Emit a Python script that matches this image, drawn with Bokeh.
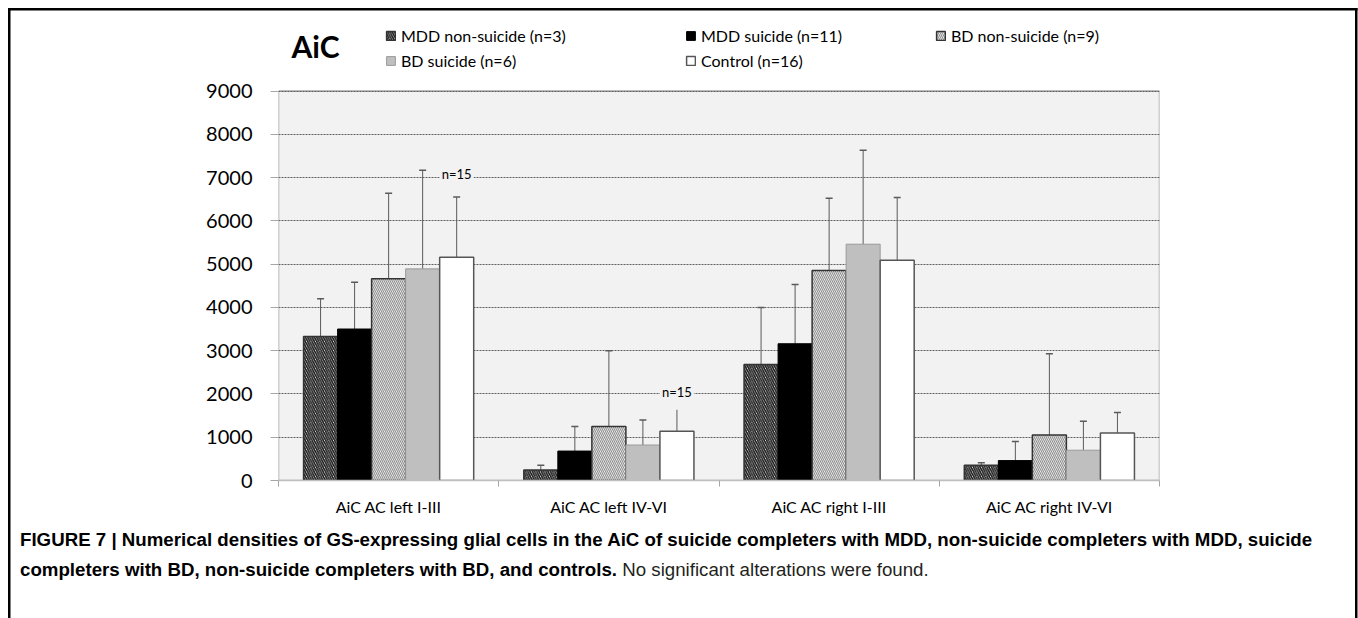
from bokeh.plotting import figure
from bokeh.models import (Range1d, FixedTicker, Whisker, TeeHead, ColumnDataSource,
                          Label, Legend, LegendItem, Div, BoxAnnotation)
from bokeh.layouts import column
from bokeh.embed import file_html
from bokeh.resources import INLINE

categories = ["AiC AC left I-III", "AiC AC left IV-VI", "AiC AC right I-III", "AiC AC right IV-VI"]
series = ["MDD non-suicide (n=3)", "MDD suicide (n=11)", "BD non-suicide (n=9)",
          "BD suicide (n=6)", "Control (n=16)"]

mdd_non_suicide = [3330, 240, 2680, 350]
mdd_non_suicide_sd = [870, 110, 1320, 60]
mdd_suicide = [3500, 680, 3160, 460]
mdd_suicide_sd = [1080, 570, 1370, 440]
bd_non_suicide = [4660, 1250, 4850, 1050]
bd_non_suicide_sd = [1980, 1750, 1670, 1880]
bd_suicide = [4890, 820, 5460, 700]
bd_suicide_sd = [2280, 580, 2170, 670]
control = [5160, 1140, 5090, 1100]
control_sd = [1390, 570, 1450, 470]

means = [mdd_non_suicide, mdd_suicide, bd_non_suicide, bd_suicide, control]
sds = [mdd_non_suicide_sd, mdd_suicide_sd, bd_non_suicide_sd, bd_suicide_sd, control_sd]

y_ticks = list(range(0, 9001, 1000))
y_max = 9000

note_text = "n=15"
note_groups = [0, 1]
note_y = [7080, 2050]

cap_bold_1 = ("FIGURE 7 | Numerical densities of GS-expressing glial cells in the AiC of suicide "
              "completers with MDD, non-suicide completers with MDD, suicide")
cap_bold_2 = "completers with BD, non-suicide completers with BD, and controls."
cap_plain = "No significant alterations were found."

styles = [
    dict(fill_color="white", hatch_pattern="\\", hatch_color="#1a1a1a", hatch_scale=4.5,
         hatch_weight=1.6, line_color="#333333", line_width=1.5),
    dict(fill_color="black", line_color="black", line_width=1.0),
    dict(fill_color="white", hatch_pattern="\\", hatch_color="#8f8f8f", hatch_scale=4.0,
         hatch_weight=1.2, line_color="#333333", line_width=1.5),
    dict(fill_color="#bfbfbf", line_color="#9a9a9a", line_width=1.0),
    dict(fill_color="white", line_color="#555555", line_width=1.5),
]

W, H1, H2 = 1358, 520, 98
FRAME_TOP, ZERO_Y, MAX_Y = 12, 480, 90.5
y_end = y_max * (ZERO_Y - FRAME_TOP) / (ZERO_Y - MAX_Y)

p = figure(width=W, height=H1, output_backend="svg", toolbar_location=None,
           x_range=Range1d(0, len(categories)), y_range=Range1d(0, y_end),
           min_border_left=278, min_border_right=199, min_border_top=FRAME_TOP,
           min_border_bottom=H1 - ZERO_Y)
p.background_fill_alpha = 0
p.border_fill_alpha = 0
p.outline_line_color = None

# gray plotting area (0..9000) with its outline
p.add_layout(BoxAnnotation(left=0, right=len(categories), bottom=0, top=y_max,
                           fill_color="#f2f2f2", fill_alpha=1, line_color="#a6a6a6",
                           line_width=1.5, line_alpha=1, level="image"))

bw = 0.1545
offsets = [-2 * bw, -bw, 0, bw, 2 * bw]
renderers = []
for k in range(5):
    xs = [i + 0.5 + offsets[k] for i in range(len(categories))]
    src = ColumnDataSource(dict(x=xs, top=means[k],
                                upper=[m + s for m, s in zip(means[k], sds[k])]))
    w = Whisker(source=src, base="x", lower="top", upper="upper", dimension="height",
                line_color="#5a5a5a", line_width=1,
                upper_head=TeeHead(size=7, line_color="#5a5a5a", line_width=1.5),
                lower_head=None, level="underlay")
    p.add_layout(w)
    r = p.vbar(x="x", top="top", bottom=0, width=bw, source=src, **styles[k])
    renderers.append(r)

# axes / grid
p.xgrid.grid_line_color = None
p.ygrid.ticker = FixedTicker(ticks=y_ticks)
p.ygrid.grid_line_color = "#5f5f5f"
p.ygrid.grid_line_dash = "2 1"
p.ygrid.grid_line_width = 1

p.yaxis.ticker = FixedTicker(ticks=y_ticks)
p.yaxis.axis_line_color = None
p.yaxis.major_tick_line_color = "#a6a6a6"
p.yaxis.major_tick_out = 8
p.yaxis.major_tick_in = 0
p.yaxis.minor_tick_line_color = None
p.yaxis.major_label_text_font = "Lato"
p.yaxis.major_label_text_font_size = "20px"
p.yaxis.major_label_text_color = "black"
p.yaxis.major_label_standoff = 18

centers = [i + 0.5 for i in range(len(categories))]
p.xaxis.ticker = FixedTicker(ticks=centers, minor_ticks=list(range(len(categories) + 1)))
p.xaxis.major_label_overrides = {c: lab for c, lab in zip(centers, categories)}
p.xaxis.axis_line_color = "#bfbfbf"
p.xaxis.axis_line_width = 1.5
p.xaxis.major_tick_line_color = None
p.xaxis.minor_tick_line_color = "#a6a6a6"
p.xaxis.minor_tick_out = 6
p.xaxis.minor_tick_in = 0
p.xaxis.major_label_text_font = "Lato"
p.xaxis.major_label_text_font_size = "16px"
p.xaxis.major_label_text_color = "black"
p.xaxis.major_label_standoff = 10

# n=15 notes
for g, yv in zip(note_groups, note_y):
    p.add_layout(Label(x=g + 0.5 + offsets[4], y=yv, text=note_text, text_align="center",
                       text_baseline="middle", text_font="Lato", text_font_size="13px",
                       text_color="black", background_fill_color="#f2f2f2", padding=(2, 10)))

# title
p.add_layout(Label(x=291, y=45, x_units="canvas", y_units="canvas", text="AiC",
                   text_font="Lato", text_font_style="bold", text_font_size="30px",
                   text_baseline="middle", text_color="black"))

# legend entries (3 columns x 2 rows)
leg_pos = [(107, 435), (407, 435), (657, 435), (107, 410), (407, 410)]
for k in range(5):
    p.add_layout(Legend(items=[LegendItem(label=series[k], renderers=[renderers[k]])],
                        location=leg_pos[k], orientation="horizontal",
                        border_line_color=None, background_fill_alpha=0,
                        padding=0, margin=0, label_standoff=5, glyph_width=11, glyph_height=11,
                        label_text_font="Lato", label_text_font_size="16px",
                        label_text_color="black"))

cap = Div(width=W, height=H2, margin=0, text=(
    "<div style=\"font-family:'Liberation Sans',Arial,sans-serif;font-size:18.7px;"
    "line-height:30px;padding:5px 0 0 20px;white-space:nowrap;color:#000;margin:0\">"
    f"<b>{cap_bold_1}</b><br><b>{cap_bold_2}</b> "
    f"<span style=\"color:#231f20\">{cap_plain}</span></div>"))

layout = column(p, cap, spacing=0, width=W, height=H1 + H2, styles={
    "background-color": "white",
    "background-image": "linear-gradient(#000,#000), linear-gradient(#000,#000), linear-gradient(#000,#000)",
    "background-size": "2.5px 100%, 1349.5px 2.5px, 2.5px 100%",
    "background-position": "7.5px 7.5px, 7.5px 7.5px, 1354.5px 7.5px",
    "background-repeat": "no-repeat",
})

open("out.html", "w").write(file_html(layout, INLINE))
